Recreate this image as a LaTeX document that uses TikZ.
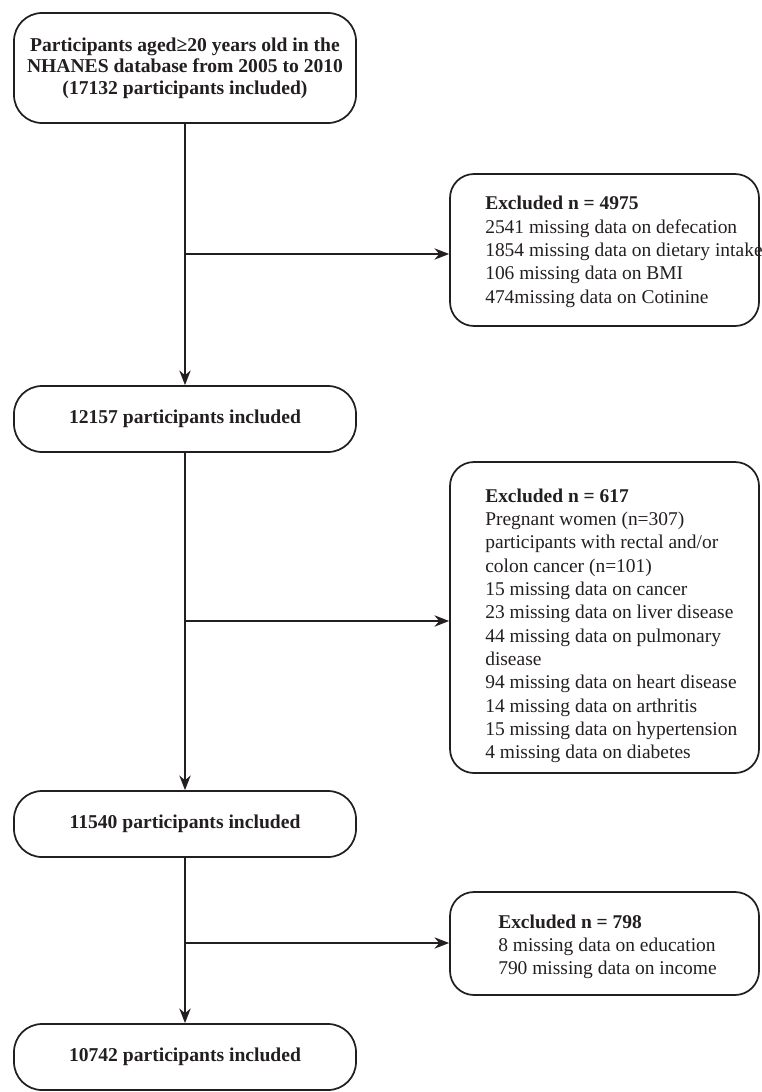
\documentclass[tikz,border=0pt]{standalone}
\usepackage{fontspec}
\setmainfont{Liberation Serif}
\usetikzlibrary{arrows.meta}
\definecolor{inkgray}{RGB}{35,31,32}
\begin{document}
\begin{tikzpicture}[
    x=0.75pt, y=-0.75pt,
    stage/.style={draw=inkgray, line width=1.3pt, rounded corners=21pt,
                  minimum width=256.5pt, minimum height=49.5pt, align=center,
                  text=inkgray, font=\fontsize{14.7}{16.2}\selectfont\bfseries},
    exbox/.style={draw=inkgray, line width=1.3pt, rounded corners=18pt,
                  minimum width=231.75pt},
    extext/.style={anchor=west, align=left, inner sep=0pt, text=inkgray,
                   font=\fontsize{14.6}{17.5}\selectfont},
    arr/.style={draw=inkgray, line width=1.3pt, -{Stealth[length=11pt, width=8.5pt]}},
  ]
  \useasboundingbox (0,0) rectangle (761,1092);
  % Main column: the participants kept
  \node[stage, minimum height=82.5pt] (start) at (185,68)
    {Participants aged≥20 years old in the\\NHANES database from 2005 to 2010\\(17132 participants included)};
  \node[stage] (kept1) at (185,419) {12157 participants included};
  \node[stage] (kept2) at (185,824) {11540 participants included};
  \node[stage] (kept3) at (185,1057) {10742 participants included};
  % Right column: the exclusions
  \node[exbox, minimum height=114pt] (excl1) at (604.5,250) {};
  \node[extext] (excl1txt) at (485,252)
    {\textbf{Excluded n = 4975}\\2541 missing data on defecation\\1854 missing data on dietary intake\\106 missing data on BMI\\474missing data on Cotinine};
  \node[exbox, minimum height=233.25pt] (excl2) at (604.5,617.5) {};
  \node[extext] (excl2txt) at (485,626)
    {\textbf{Excluded n = 617}\\Pregnant women (n=307)\\participants with rectal and/or\\colon cancer (n=101)\\15 missing data on cancer\\23 missing data on liver disease\\44 missing data on pulmonary\\disease\\94 missing data on heart disease\\14 missing data on arthritis\\15 missing data on hypertension\\4 missing data on diabetes};
  \node[exbox, minimum height=77.25pt] (excl3) at (604.5,943.5) {};
  \node[extext] (excl3txt) at (498,947)
    {\textbf{Excluded n = 798}\\8 missing data on education\\790 missing data on income};
  % Branch points on the main line
  \coordinate (br1) at (185,254);
  \coordinate (br2) at (185,621);
  \coordinate (br3) at (185,943);
  % Connectors
  \draw[arr] (start.south) -- (kept1.north);
  \draw[arr] (kept1.south) -- (kept2.north);
  \draw[arr] (kept2.south) -- (kept3.north);
  \draw[arr] (br1) -- (br1 -| excl1.west);
  \draw[arr] (br2) -- (br2 -| excl2.west);
  \draw[arr] (br3) -- (br3 -| excl3.west);
\end{tikzpicture}
\end{document}
